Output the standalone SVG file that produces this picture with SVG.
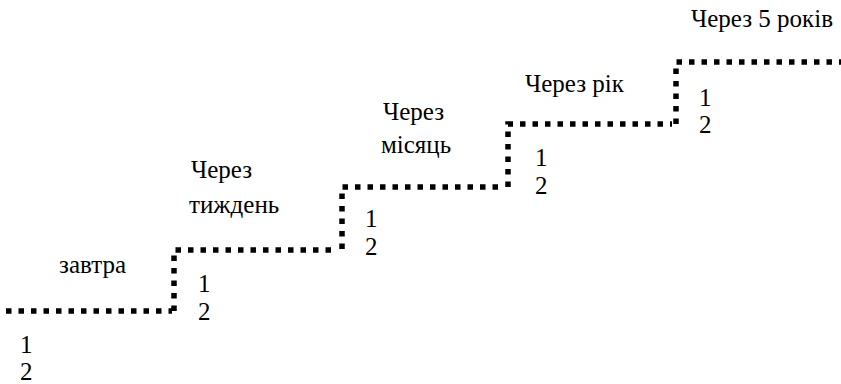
<svg xmlns="http://www.w3.org/2000/svg" width="841" height="384" viewBox="0 0 841 384">
<style>
.st{fill:none;stroke:#000;stroke-width:5.5;stroke-dasharray:5.5 7}
text{font-family:"Liberation Serif","Times New Roman",serif;font-size:25px;fill:#000}
</style>
<rect width="841" height="384" fill="#fff"/>
<g id="connectors">
<path class="st" d="M6 311 H172"/>
<path class="st" d="M174 311 V250 H338"/>
<path class="st" d="M342 249 V187 H505"/>
<path class="st" d="M508 187 V124 H672"/>
<path class="st" d="M676 124 V62 H841"/>
</g>
<g id="step0"><text x="59" y="273">завтра</text><text x="20" y="353">1</text><text x="20" y="380">2</text></g>
<g id="step1"><text x="191" y="178">Через</text><text x="189" y="213">тиждень</text><text x="198" y="292">1</text><text x="198" y="320">2</text></g>
<g id="step2"><text x="383" y="120">Через</text><text x="381" y="153">місяць</text><text x="365" y="227">1</text><text x="365" y="255">2</text></g>
<g id="step3"><text x="525" y="92">Через рік</text><text x="535" y="166">1</text><text x="535" y="194">2</text></g>
<g id="step4"><text x="691" y="27">Через 5 років</text><text x="699" y="106">1</text><text x="699" y="133">2</text></g>
</svg>
